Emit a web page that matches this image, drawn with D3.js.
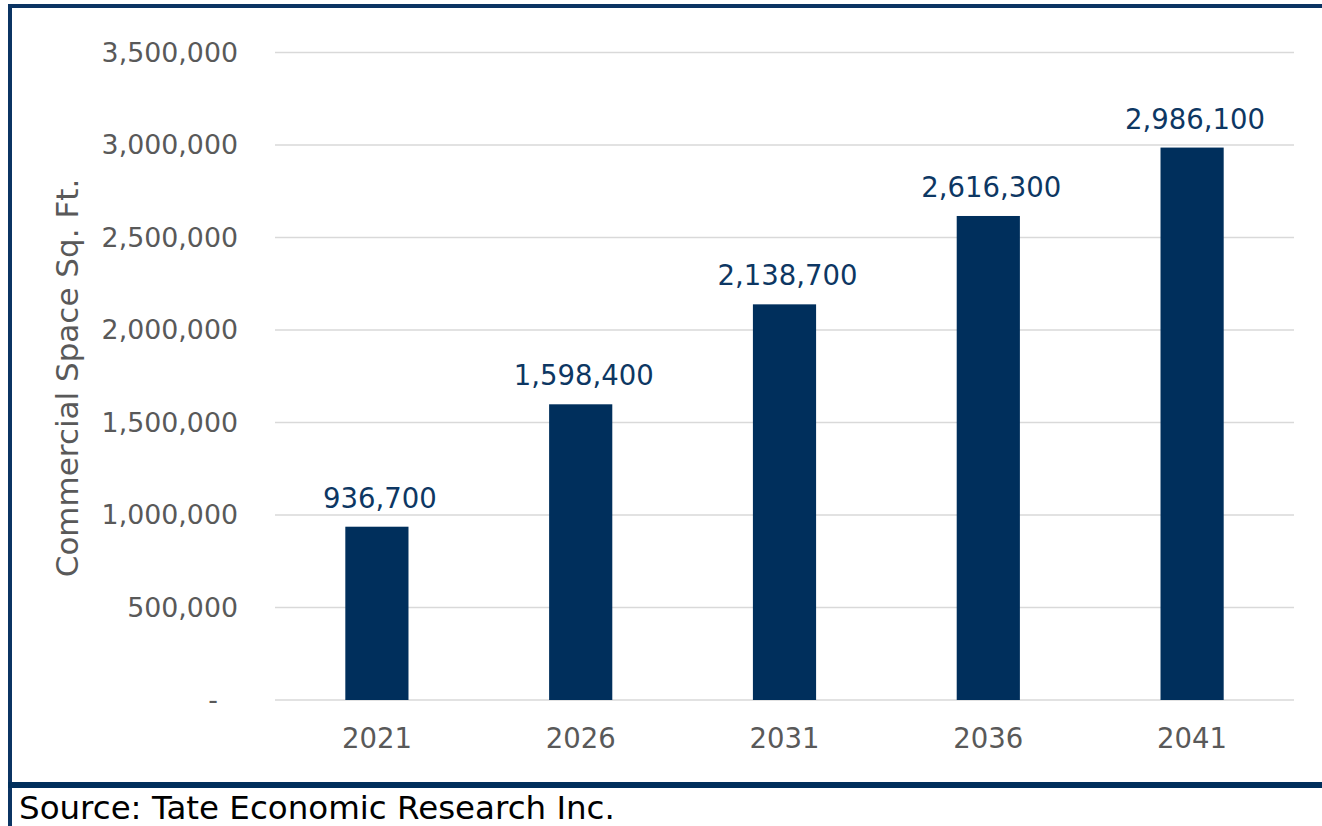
<!DOCTYPE html>
<html>
<head>
<meta charset="utf-8">
<script src="https://cdn.jsdelivr.net/npm/d3@7"></script>
<style>
  body { margin: 0; background: #fff; }
  svg { display: block; font-family: "DejaVu Sans", Verdana, sans-serif; }
</style>
</head>
<body>
<svg id="chart" width="1322" height="826"></svg>
<script>
// chart data
var years = ["2021", "2026", "2031", "2036", "2041"];
var sqft = [936700, 1598400, 2138700, 2616300, 2986100];
var yTicks = [0, 500000, 1000000, 1500000, 2000000, 2500000, 3000000, 3500000];

var svg = d3.select("#chart");
var margin = {left: 275, right: 28, top: 52.5, bottom: 126};
var W = 1322, H = 826;

var x = d3.scaleBand()
	.domain(years)
	.range([margin.left, W - margin.right])
	.paddingInner(0.69)
	.paddingOuter(0.345);

var y = d3.scaleLinear()
	.domain([0, 3500000])
	.range([H - margin.bottom, margin.top]);

var fmt = d3.format(",");

// gridlines
svg.append("g")
	.selectAll("line")
	.data(yTicks)
.enter().append("line")
	.attr("x1", margin.left)
	.attr("x2", W - margin.right)
	.attr("y1", function(d){ return y(d); })
	.attr("y2", function(d){ return y(d); })
	.style("stroke", "#d9d9d9")
	.style("stroke-width", 1.5);

// y axis labels
var yAxis = svg.append("g")
	.attr("transform", "translate(" + (margin.left - 37) + ",0)")
	.call(d3.axisLeft(y).tickValues(yTicks).tickSize(0).tickPadding(0)
		.tickFormat(function(d){ return d === 0 ? "-" : fmt(d); }))
	.attr("font-family", null)
	.attr("font-size", null);
yAxis.select(".domain").remove();
yAxis.selectAll("text")
	.style("font-size", "26.8px")
	.style("fill", "#595959")
	.attr("dx", function(d){ return d === 0 ? -20 : 0; });

// x axis labels
var xAxis = svg.append("g")
	.attr("transform", "translate(0," + y(0) + ")")
	.call(d3.axisBottom(x).tickSize(0).tickPadding(28))
	.attr("font-family", null)
	.attr("font-size", null);
xAxis.select(".domain").remove();
xAxis.selectAll("text")
	.style("font-size", "27.5px")
	.style("fill", "#595959");

// bars
svg.append("g")
	.selectAll("rect")
	.data(sqft)
.enter().append("rect")
	.attr("x", function(d, i){ return x(years[i]); })
	.attr("width", x.bandwidth())
	.attr("y", function(d){ return y(d); })
	.attr("height", function(d){ return y(0) - y(d); })
	.style("fill", "#002f5c");

// value labels
svg.append("g")
	.selectAll("text")
	.data(sqft)
.enter().append("text")
	.attr("x", function(d, i){ return x(years[i]) + x.bandwidth() / 2 + 3; })
	.attr("y", function(d){ return y(d) - 19; })
	.attr("text-anchor", "middle")
	.style("font-size", "27.5px")
	.style("fill", "#0d3763")
	.text(function(d){ return fmt(d); });

// y axis title
svg.append("text")
	.attr("transform", "translate(78,378) rotate(-90)")
	.attr("text-anchor", "middle")
	.style("font-size", "31px")
	.style("fill", "#595959")
	.text("Commercial Space Sq. Ft.");

// frame
svg.append("rect").attr("x", 8).attr("y", 4).attr("width", W - 8).attr("height", 4).style("fill", "#0b3463");
svg.append("rect").attr("x", 8).attr("y", 4).attr("width", 4).attr("height", H - 4).style("fill", "#0b3463");
svg.append("rect").attr("x", 8).attr("y", 782).attr("width", W - 8).attr("height", 6).style("fill", "#002f5c");

// source note
svg.append("text")
	.attr("x", 19)
	.attr("y", 819)
	.style("font-size", "32.5px")
	.style("fill", "#000")
	.text("Source: Tate Economic Research Inc.");
</script>
</body>
</html>
